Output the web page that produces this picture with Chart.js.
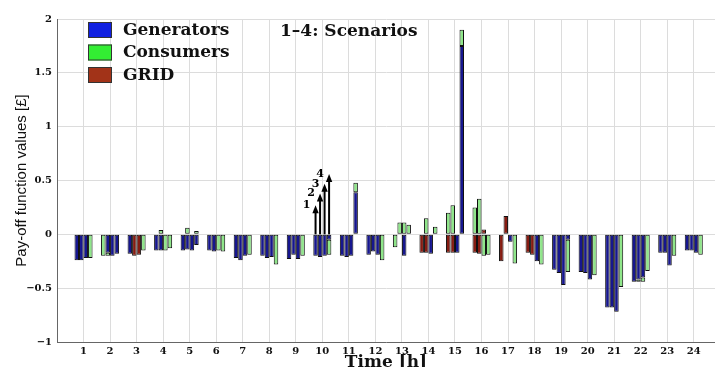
<!DOCTYPE html>
<html><head><meta charset="utf-8">
<script src="https://cdn.jsdelivr.net/npm/chart.js@4.4.1/dist/chart.umd.min.js"></script>
<style>html,body{margin:0;padding:0;background:#fff;}canvas{display:block;}</style>
</head><body>
<canvas id="c" width="715" height="367"></canvas>
<script>
// ---- data ----
const hours = [1,2,3,4,5,6,7,8,9,10,11,12,13,14,15,16,17,18,19,20,21,22,23,24];
const scenarios = ['1','2','3','4'];
const seriesNames = ['Generators','Consumers','GRID'];
const seriesColors = ['#1020e0','#33ee33','#a23318'];
const barColors = ['#16168f','#8fe68a','#861c12'];

// Generators pay-off per scenario
const genS1 = [-0.24,0,-0.18,-0.15,-0.15,-0.15,-0.22,-0.2,-0.23,-0.2,-0.2,-0.19,0,0,0,0,0,0,-0.33,-0.35,-0.68,-0.44,-0.17,-0.15];
const genS2 = [-0.24,-0.17,0,-0.15,-0.14,-0.16,-0.24,-0.22,-0.19,-0.21,-0.21,-0.16,0,0,0,0,0,0,-0.36,-0.36,-0.68,-0.42,-0.17,-0.15];
const genS3 = [-0.22,-0.2,0,0,-0.15,0,-0.2,-0.21,-0.23,-0.2,-0.2,-0.19,-0.2,-0.18,-0.17,0,-0.07,-0.25,-0.47,-0.42,-0.72,-0.4,-0.29,-0.17];
const genS4 = [0,-0.18,0,0,-0.1,0,0,0,0,-0.05,0.39,0,0,0,1.75,0,0,0,-0.05,0,0,0,0,0];
// Consumers pay-off per scenario
const conS1 = [0,-0.2,0,0,0,0,0,0,0,0,0,0,-0.12,0,0.2,0.25,0,0,0,0,0,0,0,0];
const conS2 = [0,-0.03,0,0.04,0.06,0,0,0,0,0,0,0,0.11,0.15,0.27,0.33,0,0,0,0,0,-0.02,0,0];
const conS3 = [0,0,0,-0.15,0,-0.15,0,0,0,0,0,0,0.11,0,0,-0.2,0,0,0,0,0,-0.04,0,0];
const conS4 = [-0.22,0,-0.15,-0.13,0.03,-0.16,-0.19,-0.28,-0.2,-0.14,0.09,-0.24,0.09,0.07,0.15,-0.19,-0.27,-0.28,-0.3,-0.38,-0.49,-0.34,-0.2,-0.19];
// GRID pay-off per scenario
const gridS1 = [0,0,0,0,0,0,0,0,0,0,0,0,0,-0.17,-0.17,-0.17,-0.25,-0.17,0,0,0,0,0,0];
const gridS2 = [0,0,-0.2,0,0,0,0,0,0,0,0,0,0,-0.17,-0.17,-0.18,0.17,-0.19,0,0,0,0,0,0];
const gridS3 = [0,0,-0.19,0,0,0,0,0,0,0,0,0,0,0,0,0.045,0,0,0,0,0,0,0,0];
const gridS4 = [0,0,0,0,0,0,0,0,0,0,0,0,0,0,0,0,0,0,0,0,0,0,0,0];

// scenario arrows drawn at hour 10
const arrowHour = 10;
const arrowTips = [0.27, 0.38, 0.47, 0.56];

const yTicks = [-1,-0.5,0,0.5,1,1.5,2];

// ---- build datasets ----
const bySeries = [[genS1,genS2,genS3,genS4],[conS1,conS2,conS3,conS4],[gridS1,gridS2,gridS3,gridS4]];
const datasets = [];
bySeries.forEach((byScenario, k) => {
  byScenario.forEach((vals, s) => {
    datasets.push({
      label: seriesNames[k],
      legendColor: seriesColors[k],
      data: hours.map((h, i) => ({x: h, y: vals[i] === 0 ? null : vals[i]})),
      stack: 'S' + scenarios[s],
      backgroundColor: barColors[k],
      borderColor: '#101010',
      borderWidth: 1,
      borderSkipped: false,
      categoryPercentage: 0.68,
      barPercentage: 1.0
    });
  });
});

const serif = '"DejaVu Serif", "Liberation Serif", serif';

const extrasPlugin = {
  id: 'extras',
  afterDatasetsDraw(chart) {
    const ctx = chart.ctx, yS = chart.scales.y;
    const y0 = yS.getPixelForValue(0);
    const idx = hours.indexOf(arrowHour);
    ctx.save();
    ctx.strokeStyle = '#000'; ctx.fillStyle = '#000'; ctx.lineWidth = 2;
    ctx.font = 'bold 11px ' + serif; ctx.textAlign = 'center'; ctx.textBaseline = 'middle';
    arrowTips.forEach((tip, s) => {
      const el = chart.getDatasetMeta(s).data[idx];
      const x = el.x, yt = yS.getPixelForValue(tip);
      ctx.beginPath(); ctx.moveTo(x, y0); ctx.lineTo(x, yt + 6); ctx.stroke();
      ctx.beginPath(); ctx.moveTo(x, yt); ctx.lineTo(x - 3.2, yt + 8); ctx.lineTo(x + 3.2, yt + 8); ctx.closePath(); ctx.fill();
      ctx.fillText(scenarios[s], x - 9, yt);
    });
    ctx.restore();
  },
  afterDraw(chart) {
    const ctx = chart.ctx, a = chart.chartArea;
    ctx.save();
    ctx.font = 'bold 17px ' + serif; ctx.textBaseline = 'middle'; ctx.textAlign = 'left';
    for (let k = 0; k < seriesNames.length; k++) {
      const ds = chart.data.datasets[k * scenarios.length];
      const bx = a.left + 31, by = a.top + 3 + k * 22.5;
      ctx.fillStyle = ds.legendColor; ctx.fillRect(bx, by, 24, 16);
      ctx.strokeStyle = '#333'; ctx.lineWidth = 1; ctx.strokeRect(bx + 0.5, by + 0.5, 23, 15);
      ctx.fillStyle = '#111'; ctx.fillText(ds.label, bx + 35, by + 8.5);
    }
    ctx.fillText('1\u20134: Scenarios', a.left + 223, a.top + 13);
    ctx.restore();
  }
};

new Chart(document.getElementById('c'), {
  type: 'bar',
  data: {datasets},
  options: {
    responsive: false, devicePixelRatio: 1, animation: false,
    layout: {padding: {left: 0, right: 0, top: 19, bottom: 0}},
    plugins: {legend: {display: false}, tooltip: {enabled: false}},
    scales: {
      x: {
        type: 'linear', min: 0, max: 24.8, stacked: true, offset: false,
        ticks: {stepSize: 1, includeBounds: false, autoSkip: false, maxRotation: 0, padding: 3,
          color: '#111', font: {family: serif, weight: 'bold', size: 10},
          callback: (v) => hours.includes(v) ? String(v) : ''},
        grid: {color: '#dcdcdc', drawTicks: false, offset: false},
        border: {color: '#666'},
        title: {display: true, text: 'Time [h]', color: '#111', padding: 0,
          font: {family: serif, weight: 'bold', size: 17, lineHeight: 0.55}},
        afterFit: (s) => { s.height = 25; }
      },
      y: {
        min: -1, max: 2, stacked: true,
        afterBuildTicks: (s) => { s.ticks = yTicks.map(v => ({value: v})); },
        ticks: {padding: 5, color: '#111', font: {family: serif, weight: 'bold', size: 10},
          callback: (v) => v < 0 ? '\u2212' + String(Math.abs(v)) : String(v)},
        grid: {color: '#dcdcdc', drawTicks: false},
        border: {color: '#666'},
        title: {display: true, text: 'Pay-off function values [\u00a3]', color: '#111',
          font: {family: '"Liberation Sans", Arial, sans-serif', size: 15}, padding: {top: 13, bottom: 0}},
        afterFit: (s) => { s.width = 57; }
      }
    }
  },
  plugins: [extrasPlugin]
});
</script>
</body></html>
